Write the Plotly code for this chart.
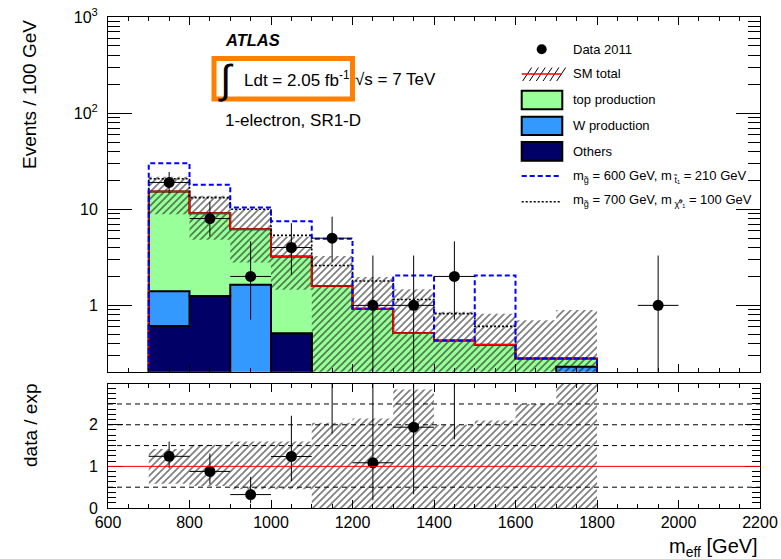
import numpy as np
import plotly.graph_objects as go

# ---------------- data ----------------
bin_edges = [700, 800, 900, 1000, 1100, 1200, 1300, 1400, 1500, 1600, 1700, 1800]
sm_total = [15.3, 9.1, 6.2, 3.23, 1.59, 0.92, 0.515, 0.43, 0.39, 0.28, 0.28]
w_prod = [0.79, 0.0, 1.64, 0.0, 0.03, 0.02, 0.01, 0.01, 0.01, 0.0, 0.23]
others = [0.61, 1.25, 0.0, 0.51, 0.02, 0.01, 0.01, 0.02, 0.0, 0.0, 0.0]
sig_600_210 = [30.1, 18.0, 10.4, 7.5, 4.94, 0.92, 2.05, 0.43, 2.05, 0.28, 0.28]
sig_700_100 = [20.8, 13.2, 10.0, 5.35, 2.6, 1.79, 1.15, 0.82, 0.605, 0.28, 0.28]
band_ratio_up = [1.42, 1.52, 1.6, 1.6, 2.05, 2.15, 2.85, 2.0, 2.1, 2.5, 3.2]
band_ratio_dn = [0.58, 0.53, 0.45, 0.45, 0.0, 0.0, 0.0, 0.0, 0.0, 0.0, 0.0]
data_x = [750, 850, 950, 1050, 1150, 1250, 1350, 1450, 1950]
data_y = [19, 8, 2, 4, 5, 1, 1, 2, 1]
data_lo = [14.7, 5.24, 0.71, 2.09, 2.84, 0.17, 0.17, 0.71, 0.17]
data_hi = [24.4, 11.9, 4.64, 7.16, 8.38, 3.30, 3.30, 4.64, 3.30]
ratio_ref_lines = [0.5, 1.5, 2.0, 2.5]
x_ticks = [600, 800, 1000, 1200, 1400, 1600, 1800, 2000, 2200]
y_ticks = [1, 10, 100, 1000]
y_ticktext = ["1", "10", "10<sup>2</sup>", "10<sup>3</sup>"]
r_ticks = [0, 1, 2]

FONT = "Liberation Sans, Arial, Helvetica, sans-serif"
FLOOR = 1e-3
GREEN = "#99FF99"
WBLUE = "#3399FF"
NAVY = "#000066"

edges = np.array(bin_edges, dtype=float)
sm = np.array(sm_total)
w = np.array(w_prod)
oth = np.array(others)


def step_poly(vals, floor=FLOOR):
    xs = [edges[0]]
    ys = [floor]
    for i, v in enumerate(vals):
        v = v if v > 0 else floor
        xs += [edges[i], edges[i + 1]]
        ys += [v, v]
    xs.append(edges[-1])
    ys.append(floor)
    return xs, ys


def band_poly(upper, lower, floor):
    xs, ys = [], []
    for i in range(len(upper)):
        xs += [edges[i], edges[i + 1]]
        ys += [upper[i], upper[i]]
    for i in reversed(range(len(lower))):
        lv = lower[i] if lower[i] > 0 else floor
        xs += [edges[i + 1], edges[i]]
        ys += [lv, lv]
    xs.append(xs[0])
    ys.append(ys[0])
    return xs, ys


hatch = dict(shape="/", size=7 / np.sqrt(2), solidity=0.34, fgcolor="black",
             bgcolor="rgba(0,0,0,0)")

fig = go.Figure()

# stacked histograms (cumulative)
for vals, col in [(sm, GREEN), (oth + w, WBLUE), (oth, NAVY)]:
    xs, ys = step_poly(vals)
    fig.add_trace(go.Scatter(x=xs, y=ys, mode="lines", fill="toself",
                             fillcolor=col, line=dict(color="black", width=2),
                             hoverinfo="skip", showlegend=False,
                             xaxis="x", yaxis="y"))

# SM uncertainty band (top)
bx, by = band_poly(sm * np.array(band_ratio_up), sm * np.array(band_ratio_dn), FLOOR)
fig.add_trace(go.Scatter(x=bx, y=by, mode="lines", fill="toself",
                         fillcolor="rgba(0,0,0,0)", fillpattern=hatch,
                         line=dict(width=0, color="rgba(0,0,0,0)"),
                         hoverinfo="skip", showlegend=False, xaxis="x", yaxis="y"))

# SM total red line
xs, ys = step_poly(sm)
fig.add_trace(go.Scatter(x=xs, y=ys, mode="lines", line=dict(color="#FF0000", width=1.6),
                         hoverinfo="skip", showlegend=False, xaxis="x", yaxis="y"))

# signal lines
xs, ys = step_poly(sig_700_100)
fig.add_trace(go.Scatter(x=xs, y=ys, mode="lines",
                         line=dict(color="black", width=1.6, dash="2px,2px"),
                         hoverinfo="skip", showlegend=False, xaxis="x", yaxis="y"))
xs, ys = step_poly(sig_600_210)
fig.add_trace(go.Scatter(x=xs, y=ys, mode="lines",
                         line=dict(color="#0000FF", width=2, dash="5px,3px"),
                         hoverinfo="skip", showlegend=False, xaxis="x", yaxis="y"))

# data
dy = np.array(data_y, dtype=float)
fig.add_trace(go.Scatter(
    x=data_x, y=dy, mode="markers",
    marker=dict(color="black", size=11),
    error_y=dict(type="data", symmetric=False, array=np.array(data_hi) - dy,
                 arrayminus=dy - np.array(data_lo), color="black", thickness=1, width=0),
    error_x=dict(type="constant", value=50, color="black", thickness=1, width=0),
    hoverinfo="skip", showlegend=False, xaxis="x", yaxis="y"))

# ---------------- ratio panel ----------------
rbx, rby = band_poly(np.array(band_ratio_up), np.array(band_ratio_dn), 0.0)
fig.add_trace(go.Scatter(x=rbx, y=rby, mode="lines", fill="toself",
                         fillcolor="rgba(0,0,0,0)", fillpattern=hatch,
                         line=dict(width=0, color="rgba(0,0,0,0)"),
                         hoverinfo="skip", showlegend=False, xaxis="x2", yaxis="y2"))

rx, ry, rlo, rhi = [], [], [], []
for x, y, lo, hi in zip(data_x, data_y, data_lo, data_hi):
    i = int((x - bin_edges[0]) // 100)
    if 0 <= i < len(sm_total) and sm_total[i] > 0:
        rx.append(x)
        ry.append(y / sm_total[i])
        rlo.append(lo / sm_total[i])
        rhi.append(hi / sm_total[i])
ry = np.array(ry)
fig.add_trace(go.Scatter(
    x=rx, y=ry, mode="markers", marker=dict(color="black", size=11),
    error_y=dict(type="data", symmetric=False, array=np.array(rhi) - ry,
                 arrayminus=ry - np.array(rlo), color="black", thickness=1, width=0),
    error_x=dict(type="constant", value=50, color="black", thickness=1, width=0),
    hoverinfo="skip", showlegend=False, xaxis="x2", yaxis="y2"))

# ---------------- layout ----------------
L, T, R, B = 108, 17, 21, 51
FW, FH = 781, 559
PW, PH = FW - L - R, FH - T - B


def PX(px):
    return (px - L) / PW


def PY(py):
    return (T + PH - py) / PH


minor_log = [m * 10.0 ** e for e in range(-1, 3) for m in range(2, 10)]

axis_common = dict(showline=True, linecolor="black", linewidth=1, mirror="allticks",
                   ticks="inside", tickcolor="black", showgrid=False, zeroline=False,
                   automargin=False,
                   tickfont=dict(family=FONT, size=16, color="black"))

fig.update_layout(
    width=FW, height=FH,
    margin=dict(l=L, r=R, t=T, b=B, autoexpand=False),
    paper_bgcolor="white", plot_bgcolor="white",
    font=dict(family=FONT, color="black"),
    showlegend=False,
    xaxis=dict(domain=[0, 1], range=[600, 2200], anchor="y", showticklabels=False,
               tickmode="array", tickvals=x_ticks, ticklen=8,
               minor=dict(ticks="inside", ticklen=4, dtick=50, tick0=600, tickcolor="black"),
               **axis_common),
    yaxis=dict(domain=[PY(371.7), 1], type="log", range=[-0.69, 3], anchor="x",
               tickmode="array", tickvals=y_ticks, ticktext=y_ticktext, ticklen=24,
               ticklabelstandoff=6,
               minor=dict(ticks="inside", ticklen=12, tickmode="array", tickvals=minor_log,
                          tickcolor="black"),
               **axis_common),
    xaxis2=dict(domain=[0, 1], range=[600, 2200], anchor="y2", matches="x",
                tickmode="array", tickvals=x_ticks, ticklen=8,
                minor=dict(ticks="inside", ticklen=4, dtick=50, tick0=600, tickcolor="black"),
                **axis_common),
    yaxis2=dict(domain=[0, PY(384)], range=[0, 2.98], anchor="x2",
                tickmode="array", tickvals=r_ticks, ticklen=15, ticklabelstandoff=6,
                minor=dict(ticks="inside", ticklen=8, dtick=0.125, tick0=0, tickcolor="black"),
                **axis_common),
)

shapes = []
# ratio reference lines
for v in ratio_ref_lines:
    shapes.append(dict(type="line", xref="x2 domain", yref="y2", x0=0, x1=1, y0=v, y1=v,
                       line=dict(color="black", width=1, dash="5px,4px"), layer="above"))
shapes.append(dict(type="line", xref="x2 domain", yref="y2", x0=0, x1=1, y0=1, y1=1,
                   line=dict(color="#FF0000", width=1), layer="above"))

# orange box
shapes.append(dict(type="rect", xref="paper", yref="paper",
                   x0=PX(214), x1=PX(352.5), y0=PY(99), y1=PY(58.5),
                   line=dict(color="#FF8000", width=5), fillcolor="rgba(0,0,0,0)", layer="above"))

# legend symbols
lx0, lx1 = 521.7, 561.7
shapes.append(dict(type="circle", xref="paper", yref="paper",
                   x0=PX(541.7 - 5), x1=PX(541.7 + 5), y0=PY(49.3 + 5), y1=PY(49.3 - 5),
                   fillcolor="black", line=dict(color="black", width=0), layer="above"))
for k in range(6):
    xa = lx0 + 1 + k * 6.8
    shapes.append(dict(type="line", xref="paper", yref="paper",
                       x0=PX(xa), y0=PY(81), x1=PX(xa + 9), y1=PY(67.5),
                       line=dict(color="black", width=1), layer="above"))
shapes.append(dict(type="line", xref="paper", yref="paper", x0=PX(lx0), x1=PX(lx1),
                   y0=PY(74), y1=PY(74), line=dict(color="#FF0000", width=1.5), layer="above"))
for (ya, yb), col in [((90.7, 109.3), GREEN), ((116.7, 135), WBLUE), ((142, 160.7), NAVY)]:
    shapes.append(dict(type="rect", xref="paper", yref="paper", x0=PX(lx0), x1=PX(lx1 + 0.6),
                       y0=PY(yb), y1=PY(ya), fillcolor=col,
                       line=dict(color="black", width=2), layer="above"))
shapes.append(dict(type="line", xref="paper", yref="paper", x0=PX(lx0), x1=PX(lx1),
                   y0=PY(176), y1=PY(176), line=dict(color="#0000FF", width=2, dash="5px,3px"),
                   layer="above"))
shapes.append(dict(type="line", xref="paper", yref="paper", x0=PX(lx0), x1=PX(lx1),
                   y0=PY(201.7), y1=PY(201.7), line=dict(color="black", width=1.5, dash="2px,2px"),
                   layer="above"))
fig.update_layout(shapes=shapes)

ann = []


def text(px, py, s, size, xanchor="left", yanchor="middle", angle=0, **kw):
    ann.append(dict(xref="paper", yref="paper", x=PX(px), y=PY(py), text=s, showarrow=False,
                    xanchor=xanchor, yanchor=yanchor, textangle=angle,
                    font=dict(family=FONT, size=size, color="black", **kw)))


LEG = 13
text(570.7, 49.5, "Data 2011", LEG)
text(570.7, 74, "SM total", LEG)
text(570.7, 99.5, "top production", LEG)
text(570.7, 125.5, "W production", LEG)
text(570.7, 151.5, "Others", LEG)
text(570.7, 176, "m<sub>g̃</sub> = 600 GeV, m<sub> t̃₁</sub> = 210 GeV", LEG)
text(570.7, 201, "m<sub>g̃</sub> = 700 GeV, m<sub> χ̃⁰₁</sub> = 100 GeV", LEG)

text(223, 40, "<b><i>ATLAS</i></b>", 16.5)
text(216, 79, "∫", 40, xanchor="left")
text(241.5, 79.5, "Ldt = 2.05 fb<sup>-1</sup>", 17)
text(353, 79.5, "√s = 7 TeV", 17)
text(223, 120, "1-electron, SR1-D", 17)

text(30, 95, "Events / 100 GeV", 19, xanchor="center", angle=-90)
text(30, 426, "data / exp", 19, xanchor="center", angle=-90)
text(760, 547, "m<sub>eff</sub> [GeV]", 20, xanchor="right")
fig.update_layout(annotations=ann)

fig.write_html("out.html")
